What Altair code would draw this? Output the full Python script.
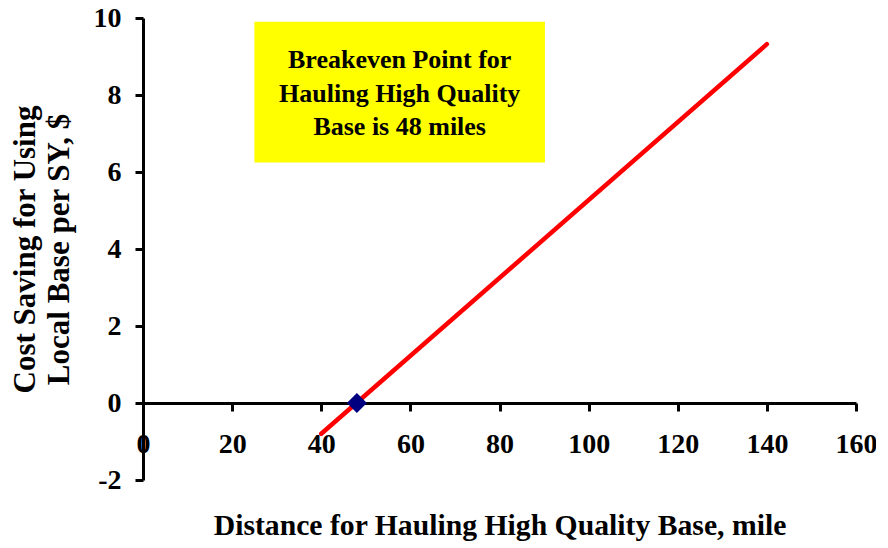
import altair as alt
import pandas as pd

# Data
line_x = [40, 140]
line_y = [-0.8, 9.32]
point_x = [48]
point_y = [0]
x_ticks = [0, 20, 40, 60, 80, 100, 120, 140, 160]
y_ticks = [-2, 0, 2, 4, 6, 8, 10]
note_lines = ["Breakeven Point for", "Hauling High Quality", "Base is 48 miles"]
note_box = {"x": [25], "x2": [90.2], "y": [6.25], "y2": [9.9]}
note_pos = {"x": [57.6], "y": [8.9]}

FONT = "Liberation Serif"
W, H = 713, 462

line_df = pd.DataFrame({"x": line_x, "y": line_y})
pt_df = pd.DataFrame({"x": point_x, "y": point_y})
box_df = pd.DataFrame(note_box)
txt_df = pd.DataFrame({"x": note_pos["x"], "y": note_pos["y"], "t": [note_lines]})

xs = alt.Scale(domain=[0, 160], nice=False, zero=False)
ys = alt.Scale(domain=[-2, 10], nice=False, zero=False)

x_enc = alt.X("x:Q", scale=xs, axis=alt.Axis(
    values=x_ticks, title="Distance for Hauling High Quality Base, mile",
    offset=-77, labelPadding=19, titlePadding=53, labelFlush=False,
    labelOverlap=False, labelExpr="datum.value", titleFontSize=29.7))
y_enc = alt.Y("y:Q", scale=ys, axis=alt.Axis(
    values=y_ticks, title=["Cost Saving for Using", "Local Base per SY, $"],
    labelPadding=14, titlePadding=18, titleLineHeight=34,
    labelExpr="datum.value", titleFontSize=31))

box = alt.Chart(box_df).mark_rect(color="#FFFF00").encode(
    x=alt.X("x:Q", scale=xs), x2="x2:Q",
    y=alt.Y("y:Q", scale=ys), y2="y2:Q")

txt = alt.Chart(txt_df).mark_text(
    font=FONT, fontSize=26, fontWeight="bold", color="black",
    lineHeight=33.5, align="center", baseline="middle").encode(
    x=alt.X("x:Q", scale=xs), y=alt.Y("y:Q", scale=ys), text="t")

line = alt.Chart(line_df).mark_line(
    color="#FF0000", strokeWidth=4.5, strokeCap="round").encode(x=x_enc, y=y_enc)

pt = alt.Chart(pt_df).mark_point(
    shape="diamond", filled=True, color="#000080", size=400, opacity=1).encode(
    x=alt.X("x:Q", scale=xs), y=alt.Y("y:Q", scale=ys))

chart = alt.layer(line, box, txt, pt).properties(
    width=W, height=H,
    autosize=alt.AutoSizeParams(type="none"),
    padding={"left": 135, "top": 10, "right": 20, "bottom": 68},
).configure_view(stroke=None).configure_axis(
    grid=False, domainColor="black", domainWidth=3, tickColor="black",
    tickWidth=3, tickSize=8, labelFont=FONT, labelFontSize=28,
    labelFontWeight="bold", labelColor="black", titleFont=FONT,
    titleFontWeight="bold", titleColor="black",
)

chart.save("out.html", embed_options={"renderer": "svg", "actions": False})
